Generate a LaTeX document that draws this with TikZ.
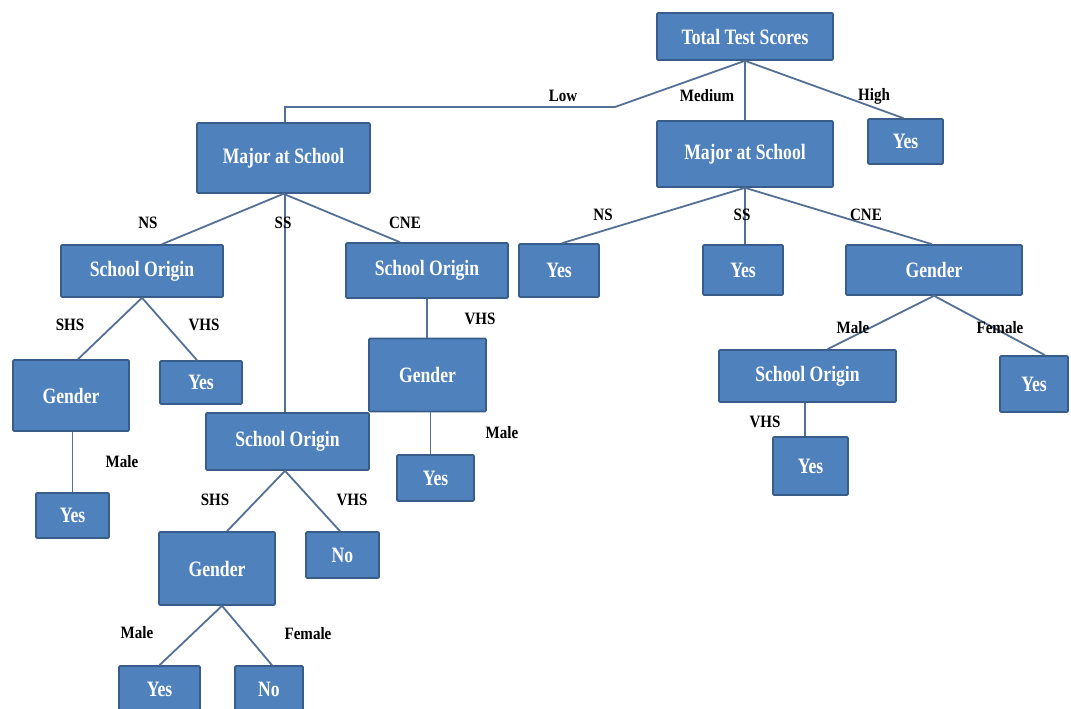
\documentclass[tikz,border=0pt]{standalone}
\usepackage{fontspec}
\usepackage{graphicx}
\setmainfont{Liberation Serif}
\definecolor{boxfill}{RGB}{79,129,189}
\definecolor{boxline}{RGB}{56,93,138}
\definecolor{conn}{RGB}{84,112,150}
\tikzset{
  box/.style={draw=boxline, line width=1.6pt, fill=boxfill, rounded corners=1pt,
    text=white, font=\fontsize{18}{20}\selectfont\bfseries, inner sep=0pt, anchor=center},
  lbl/.style={font=\fontsize{15.5}{17}\selectfont\bfseries, text=black, inner sep=0pt},
  conn/.style={draw=conn, line width=1.8pt}
}
\newcommand{\bx}[6]{\node[box, minimum width=#4pt, minimum height=#5pt] (#1) at (#2,#3) {\scalebox{0.98}[1.22]{#6}};}
\newcommand{\lb}[4]{\node[lbl] (#1) at (#2,#3) {\scalebox{0.97}[1.12]{#4}};}
\begin{document}
\begin{tikzpicture}[x=1pt, y=-1pt]
\clip (0,0) rectangle (1071,709);
\fill[white] (0,0) rectangle (1071,709);
\coordinate (lowA) at (615,107);
\coordinate (lowB) at (285,107);
% boxes
\bx{root}{745}{36.5}{176}{47}{Total Test Scores}
\bx{majL}{283.5}{158}{173}{70}{Major at School}
\bx{majM}{745}{154}{176}{66}{Major at School}
\bx{yesH}{905.5}{141.5}{75}{45}{Yes}
\bx{soNS}{142}{271}{162}{52}{School Origin}
\bx{soCNE}{427}{270.5}{162}{55}{School Origin}
\bx{genL}{71}{395.5}{116}{71}{Gender}
\bx{yesV}{201}{382.5}{82}{43}{Yes}
\bx{yesL}{72.5}{515.5}{73}{45}{Yes}
\bx{soSS}{287.5}{441.5}{163}{57}{School Origin}
\bx{genC}{427.5}{375}{117}{73}{Gender}
\bx{yesC}{435.5}{478}{77}{46}{Yes}
\bx{genB}{217}{568.5}{116}{73}{Gender}
\bx{noB}{342.5}{555}{73}{46}{No}
\bx{yesBB}{159.5}{689}{81}{46}{Yes}
\bx{noBB}{269}{689}{68}{46}{No}
\bx{yesNS}{559}{270.5}{80}{53}{Yes}
\bx{yesSS}{743}{270}{80}{50}{Yes}
\bx{genR}{934}{270}{176}{50}{Gender}
\bx{soR}{807.5}{376}{177}{52}{School Origin}
\bx{yesF}{1034}{384}{68}{56}{Yes}
\bx{yesR}{810.5}{466}{75}{58}{Yes}
% connectors
\draw[conn] (root.south) -- (lowA) -- (lowB) -- (lowB |- majL.north);
\draw[conn] (root.south) -- (majM.north);
\draw[conn] (root.south) -- ([xshift=-2pt]yesH.north);
\draw[conn] (majL.south) -- ([xshift=20pt]soNS.north);
\draw[conn] (majL.south) -- ([xshift=-27pt]soCNE.north);
\draw[conn] ([xshift=1.5pt]majL.south) -- ([xshift=1.5pt]majL.south |- soSS.north);
\draw[conn] (soNS.south) -- ([xshift=7pt]genL.north);
\draw[conn] (soNS.south) -- ([xshift=-4pt]yesV.north);
\draw[conn] ([xshift=1.5pt]genL.south) -- ([xshift=1.5pt]genL.south |- yesL.north);
\draw[conn] (soCNE.south) -- (soCNE.south |- genC.north);
\draw[conn] ([xshift=3pt]genC.south) -- ([xshift=3pt]genC.south |- yesC.north);
\draw[conn] ([xshift=-2.5pt]soSS.south) -- ([xshift=10pt]genB.north);
\draw[conn] ([xshift=-2.5pt]soSS.south) -- ([xshift=-2.5pt]noB.north);
\draw[conn] ([xshift=5pt]genB.south) -- (yesBB.north);
\draw[conn] ([xshift=5pt]genB.south) -- ([xshift=3pt]noBB.north);
\draw[conn] (majM.south) -- ([xshift=3pt]yesNS.north);
\draw[conn] (majM.south) -- (majM.south |- yesSS.north);
\draw[conn] (majM.south) -- ([xshift=-2pt]genR.north);
\draw[conn] (genR.south) -- ([xshift=20pt]soR.north);
\draw[conn] (genR.south) -- ([xshift=11pt]yesF.north);
\draw[conn] ([xshift=-2.5pt]soR.south) -- ([xshift=-2.5pt]soR.south |- yesR.north);
% labels
\lb{lLow}{563}{96}{Low}
\lb{lMed}{707}{96}{Medium}
\lb{lHigh}{874}{96}{High}
\lb{lNS1}{148}{223}{NS}
\lb{lSS1}{283}{223}{SS}
\lb{lCNE1}{405}{223}{CNE}
\lb{lSHS1}{70}{325}{SHS}
\lb{lVHS1}{204}{325}{VHS}
\lb{lVHS2}{480}{319}{VHS}
\lb{lMale1}{122}{462}{Male}
\lb{lMale2}{502}{433}{Male}
\lb{lSHS2}{215}{500}{SHS}
\lb{lVHS3}{352}{500}{VHS}
\lb{lMale3}{137}{633}{Male}
\lb{lFem1}{308}{634}{Female}
\lb{lNS2}{603}{215}{NS}
\lb{lSS2}{742}{215}{SS}
\lb{lCNE2}{866}{215}{CNE}
\lb{lMale4}{853}{328}{Male}
\lb{lFem2}{1000}{328}{Female}
\lb{lVHS4}{765}{422}{VHS}
\end{tikzpicture}
\end{document}
